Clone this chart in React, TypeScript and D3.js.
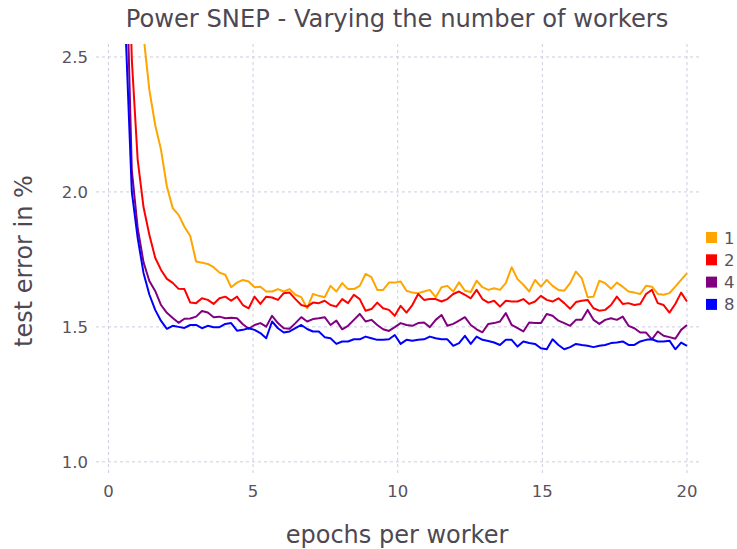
import React from 'react';
import * as d3 from 'd3';

// epochs per worker, 100 evenly spaced samples from 0 to 20
const epochs = d3.range(100).map(i => (i * 20) / 99);

const workers1 = [
  14, 8, 5.5, 4.2, 3.4, 2.9, 2.58, 2.378, 2.248, 2.156,
  2.02, 1.94, 1.915, 1.871, 1.837, 1.742, 1.738, 1.733, 1.721, 1.701,
  1.693, 1.647, 1.664, 1.674, 1.668, 1.647, 1.649, 1.631, 1.631, 1.64,
  1.631, 1.64, 1.619, 1.61, 1.569, 1.622, 1.615, 1.61, 1.652, 1.631,
  1.662, 1.64, 1.64, 1.652, 1.696, 1.684, 1.637, 1.637, 1.664, 1.664,
  1.668, 1.634, 1.627, 1.625, 1.631, 1.637, 1.61, 1.647, 1.652, 1.631,
  1.665, 1.634, 1.629, 1.671, 1.647, 1.637, 1.643, 1.637, 1.662, 1.721,
  1.677, 1.656, 1.631, 1.674, 1.649, 1.674, 1.652, 1.637, 1.634, 1.662,
  1.705, 1.68, 1.61, 1.612, 1.671, 1.662, 1.641, 1.664, 1.649, 1.631,
  1.627, 1.622, 1.652, 1.649, 1.622, 1.619, 1.625, 1.649, 1.674, 1.699,
];

const workers2 = [
  12, 7, 4.5, 3.3, 2.49, 2.12, 1.944, 1.841, 1.756, 1.711,
  1.678, 1.663, 1.641, 1.64, 1.59, 1.588, 1.606, 1.6, 1.585, 1.606,
  1.612, 1.597, 1.612, 1.581, 1.569, 1.612, 1.585, 1.612, 1.609, 1.6,
  1.625, 1.627, 1.603, 1.581, 1.575, 1.59, 1.588, 1.597, 1.581, 1.575,
  1.603, 1.588, 1.619, 1.603, 1.56, 1.566, 1.59, 1.569, 1.563, 1.541,
  1.578, 1.553, 1.581, 1.622, 1.6, 1.603, 1.603, 1.594, 1.603, 1.622,
  1.631, 1.619, 1.606, 1.637, 1.603, 1.59, 1.597, 1.575, 1.597, 1.594,
  1.594, 1.603, 1.585, 1.594, 1.615, 1.6, 1.594, 1.606, 1.588, 1.567,
  1.592, 1.597, 1.6, 1.569, 1.56, 1.563, 1.581, 1.612, 1.585, 1.588,
  1.581, 1.585, 1.622, 1.637, 1.588, 1.581, 1.553, 1.585, 1.627, 1.594,
];

const workers4 = [
  11, 6, 4.0, 2.9, 2.08, 1.867, 1.74, 1.67, 1.633, 1.581,
  1.552, 1.533, 1.515, 1.53, 1.531, 1.538, 1.559, 1.553, 1.536, 1.538,
  1.532, 1.534, 1.532, 1.51, 1.493, 1.507, 1.514, 1.501, 1.541, 1.514,
  1.495, 1.493, 1.514, 1.536, 1.52, 1.529, 1.532, 1.536, 1.507, 1.523,
  1.491, 1.504, 1.526, 1.548, 1.52, 1.526, 1.507, 1.491, 1.485, 1.499,
  1.514, 1.507, 1.504, 1.514, 1.516, 1.499, 1.526, 1.544, 1.504, 1.511,
  1.523, 1.536, 1.507, 1.491, 1.48, 1.511, 1.514, 1.52, 1.551, 1.507,
  1.495, 1.483, 1.516, 1.514, 1.514, 1.548, 1.541, 1.523, 1.514, 1.504,
  1.526, 1.526, 1.563, 1.526, 1.511, 1.526, 1.532, 1.526, 1.538, 1.504,
  1.495, 1.479, 1.479, 1.454, 1.483, 1.467, 1.462, 1.456, 1.489, 1.507,
];

const workers8 = [
  12, 6, 4.2, 2.56, 2.0, 1.83, 1.7, 1.62, 1.563, 1.522,
  1.493, 1.504, 1.5, 1.496, 1.507, 1.507, 1.495, 1.504, 1.499, 1.499,
  1.511, 1.514, 1.486, 1.489, 1.495, 1.489, 1.477, 1.458, 1.52, 1.495,
  1.479, 1.483, 1.495, 1.507, 1.492, 1.483, 1.483, 1.462, 1.458, 1.437,
  1.446, 1.446, 1.454, 1.454, 1.464, 1.458, 1.452, 1.452, 1.454, 1.47,
  1.437, 1.452, 1.449, 1.452, 1.454, 1.464, 1.458, 1.454, 1.454, 1.43,
  1.44, 1.467, 1.437, 1.464, 1.452, 1.448, 1.442, 1.433, 1.452, 1.452,
  1.427, 1.446, 1.44, 1.437, 1.421, 1.417, 1.454, 1.433, 1.417, 1.425,
  1.437, 1.433, 1.43, 1.425, 1.43, 1.433, 1.44, 1.442, 1.446, 1.433,
  1.433, 1.446, 1.452, 1.454, 1.446, 1.446, 1.449, 1.417, 1.442, 1.43,
];

const seriesLabels = ['1', '2', '4', '8'];
const seriesColors = ['#ffa500', '#ff0000', '#800080', '#0000ff'];
const seriesValues = [workers1, workers2, workers4, workers8];

const xTicks = [0, 5, 10, 15, 20];
const yTicks = [1.0, 1.5, 2.0, 2.5];

const title = 'Power SNEP - Varying the number of workers';
const xLabel = 'epochs per worker';
const yLabel = 'test error in %';

const W = 737;
const H = 549;
const plot = { left: 96, right: 700, top: 44, bottom: 474 };
const font = '"DejaVu Sans", sans-serif';
const textColor = '#4d4852';
const tickColor = '#57525d';
const gridColor = '#cdcde0';

export default function App() {
  const x = d3.scaleLinear().domain([-0.43, 20.45]).range([plot.left, plot.right]);
  const y = d3.scaleLinear().domain([0.955, 2.548]).range([plot.bottom, plot.top]);

  const line = d3
    .line<number>()
    .x((_, i) => x(epochs[i]))
    .y(d => y(d));

  return (
    <svg
      width={W}
      height={H}
      style={{ position: 'absolute', left: 0, top: 0, background: '#fff' }}
      fontFamily={font}
    >
      <defs>
        <clipPath id="plot-clip">
          <rect x={plot.left} y={plot.top} width={plot.right - plot.left} height={plot.bottom - plot.top} />
        </clipPath>
      </defs>

      {/* grid */}
      <g stroke={gridColor} strokeWidth={1} strokeDasharray="3,3">
        {xTicks.map(t => (
          <line key={'gx' + t} x1={x(t)} x2={x(t)} y1={plot.top} y2={plot.bottom} />
        ))}
        {yTicks.map(t => (
          <line key={'gy' + t} x1={plot.left} x2={plot.right} y1={y(t)} y2={y(t)} />
        ))}
      </g>

      {/* tick labels */}
      <g fill={tickColor} fontSize={16.5}>
        {xTicks.map(t => (
          <text key={'tx' + t} x={x(t)} y={497} textAnchor="middle">
            {t}
          </text>
        ))}
        {yTicks.map(t => (
          <text key={'ty' + t} x={88} y={y(t) + 6} textAnchor="end">
            {d3.format('.1f')(t)}
          </text>
        ))}
      </g>

      {/* series */}
      <g clipPath="url(#plot-clip)" fill="none" strokeWidth={2} strokeLinejoin="round">
        {seriesValues.map((vals, s) => (
          <path key={seriesLabels[s]} d={line(vals) || ''} stroke={seriesColors[s]} />
        ))}
      </g>

      {/* legend */}
      <g fontSize={16.5} fill={tickColor}>
        {seriesLabels.map((lab, s) => (
          <g key={'lg' + lab} transform={`translate(706, ${232 + s * 22.3})`}>
            <rect x={0} y={0} width={11} height={11} fill={seriesColors[s]} />
            <text x={18} y={11.5}>
              {lab}
            </text>
          </g>
        ))}
      </g>

      {/* titles */}
      <text x={397} y={27} textAnchor="middle" fontSize={24.2} fill={textColor}>
        {title}
      </text>
      <text x={397} y={543} textAnchor="middle" fontSize={24} fill={textColor}>
        {xLabel}
      </text>
      <text
        transform={`translate(31.5, 261) rotate(-90)`}
        textAnchor="middle"
        fontSize={24}
        fill={textColor}
      >
        {yLabel}
      </text>
    </svg>
  );
}
